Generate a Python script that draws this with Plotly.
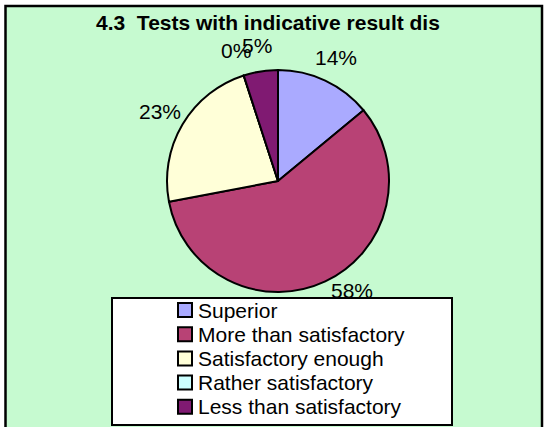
import math
import plotly.graph_objects as go

labels = ["Superior", "More than satisfactory", "Satisfactory enough",
          "Rather satisfactory", "Less than satisfactory"]
values = [14, 58, 23, 0, 5]
colors = ["#aaaaff", "#b84275", "#ffffd8", "#ccffff", "#801a72"]
title = "4.3  Tests with indicative result dis"

W, H = 544, 427
cx, cy, r = 278, 181, 111   # pie centre and radius in pixels
FONT = "Liberation Sans, Arial"

# the 58% label sits under the legend box, so plotly draws that one (it gets covered);
# the others are placed as annotations around the pie
positions = ["outside" if v == max(values) else "none" for v in values]

fig = go.Figure()
fig.add_trace(go.Pie(
    labels=labels,
    values=values,
    sort=False,
    direction="clockwise",
    rotation=0,
    marker=dict(colors=colors, line=dict(color="black", width=2)),
    texttemplate="%{percent:.0%}",
    textposition=positions,
    textfont=dict(family=FONT, size=21, color="black"),
    domain=dict(x=[(cx - r) / W, (cx + r) / W], y=[1 - (cy + r) / H, 1 - (cy - r) / H]),
    showlegend=False,
))

total = sum(values)
cum = 0
for v in values:
    if v != max(values):
        ang = math.radians(360 * (cum + v / 2) / total)
        fig.add_annotation(text="{:.0f}%".format(100 * v / total), xref="paper", yref="paper",
                           x=(cx + 137 * math.sin(ang)) / W,
                           y=1 - (cy - 137 * math.cos(ang)) / H,
                           xanchor="center", yanchor="middle", showarrow=False,
                           font=dict(family=FONT, size=21, color="black"))
    cum += v

# green chart area with black frame
fig.add_shape(type="rect", xref="paper", yref="paper",
              x0=5.5 / W, x1=542 / W, y0=-0.05, y1=1 - 6 / H,
              fillcolor="#c6fad0", line=dict(color="black", width=2.5),
              layer="below")
# legend box
fig.add_shape(type="rect", xref="paper", yref="paper",
              x0=112 / W, x1=452 / W, y0=1 - 425 / H, y1=1 - 298 / H,
              fillcolor="white", line=dict(color="black", width=2),
              layer="above")
# legend entries
for i, (lab, col) in enumerate(zip(labels, colors)):
    yc = 310 + 24.2 * i
    fig.add_shape(type="rect", xref="paper", yref="paper",
                  x0=178 / W, x1=192 / W, y0=1 - (yc + 7) / H, y1=1 - (yc - 7) / H,
                  fillcolor=col, line=dict(color="black", width=2), layer="above")
    fig.add_annotation(text=lab, xref="paper", yref="paper",
                       x=196 / W, y=1 - yc / H, xanchor="left", yanchor="middle",
                       showarrow=False, font=dict(family=FONT, size=21, color="black"))

fig.add_annotation(text="<b>" + title + "</b>", xref="paper", yref="paper",
                   x=268 / W, y=1 - 23 / H, yanchor="middle", showarrow=False,
                   font=dict(family=FONT, size=21, color="black"))

fig.update_layout(
    width=W, height=H,
    margin=dict(l=0, r=0, t=0, b=0, autoexpand=False),
    paper_bgcolor="white",
    plot_bgcolor="white",
    showlegend=False,
)

fig.write_html("out.html", config={"displayModeBar": False},
               post_script="document.body.style.margin='0';")
